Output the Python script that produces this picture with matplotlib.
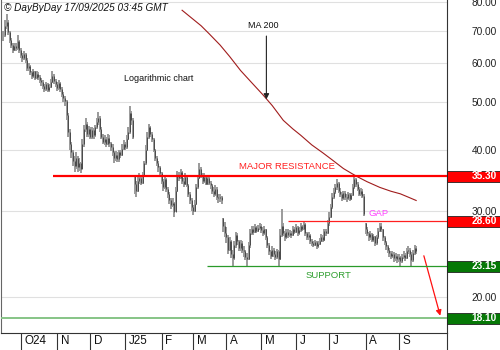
import numpy as np
import pandas as pd
import matplotlib
matplotlib.use("Agg")
import matplotlib.pyplot as plt
import matplotlib.transforms as mtransforms
from matplotlib.patches import Rectangle
from matplotlib.lines import Line2D
from matplotlib.ticker import NullLocator

plt.rcParams['font.family'] = ['Liberation Sans', 'DejaVu Sans']

# daily sessions, one bar per weekday
dates = pd.bdate_range("2024-09-16", "2025-09-16")

close = [
    68.5, 71.5, 73.0, 69.5, 67.0, 65.5, 64.0, 65.0, 64.5, 66.5,
    64.0, 62.5, 61.5, 62.8, 61.0, 58.8, 59.2, 57.5, 56.5, 57.8,
    56.0, 57.0, 56.3, 55.5, 55.0, 54.0, 53.2, 54.5, 53.0, 53.8,
    55.0, 56.5, 55.2, 54.5, 53.5, 54.8, 53.2, 52.0, 51.0, 50.2,
    47.0, 43.5, 41.0, 39.5, 38.0, 37.0, 38.5, 36.8, 37.5, 36.5,
    41.0, 44.0, 45.2, 43.0, 44.0, 42.5, 43.8, 42.8, 44.5, 45.5,
    46.5, 44.0, 42.5, 41.5, 42.0, 41.0, 42.3, 41.2, 40.5, 39.5,
    38.5, 39.0, 38.2, 39.5, 39.0, 40.2, 41.0, 40.5, 42.0, 43.5,
    47.5, 46.0, 42.5, 34.0, 33.0, 34.5, 35.0, 34.2, 35.5, 37.5,
    40.0, 42.5, 44.5, 43.0, 42.0, 40.0, 38.5, 37.5, 36.8, 35.8,
    34.5, 33.5, 34.8, 33.2, 32.5, 31.5, 30.8, 31.2, 29.8, 33.0,
    35.5, 35.0, 36.0, 34.5, 34.0, 35.2, 33.8, 32.5, 31.5, 30.5,
    30.0, 31.0, 33.5, 35.0, 36.5, 35.5, 34.5, 35.2, 34.0, 35.0,
    34.2, 33.8, 33.0, 32.5, 33.2, 32.0, 31.8, 32.0, 31.5, 28.0,
    27.0, 26.5, 25.0, 26.0, 24.5, 24.0, 25.5, 26.8, 26.0, 25.2,
    25.8, 25.0, 24.8, 24.2, 23.9, 25.5, 27.0, 27.5, 27.2, 27.8,
    27.3, 27.7, 28.0, 27.4, 27.0, 27.5, 26.5, 25.5, 24.8, 24.3,
    25.0, 24.5, 24.2, 24.8, 23.9, 26.8, 28.0, 27.0, 26.5, 27.2,
    26.8, 27.0, 26.8, 27.5, 27.2, 27.8, 27.0, 27.4, 27.9, 27.6,
    28.2, 27.0, 26.5, 26.8, 26.0, 25.8, 25.6, 25.9, 25.4, 25.7,
    26.1, 26.5, 26.2, 27.3, 27.0, 28.3, 29.2, 30.5, 32.0, 32.8,
    33.5, 34.2, 33.0, 32.5, 31.8, 32.6, 32.0, 31.8, 32.4, 31.7,
    32.3, 33.5, 34.8, 34.0, 33.2, 32.5, 33.0, 32.2, 29.6, 27.6,
    27.0, 26.5, 26.9, 26.2, 26.6, 25.8, 26.5, 27.3, 28.0, 27.5,
    26.5, 25.9, 25.4, 25.0, 24.6, 24.3, 24.5, 24.0, 24.3, 23.9,
    24.1, 23.7, 24.2, 24.4, 24.0, 24.8, 25.0, 24.5, 23.8, 24.6,
    25.2, 24.9,
]

high = [
    70.0, 73.5, 75.5, 73.5, 70.0, 67.5, 66.0, 66.0, 66.0, 68.5,
    67.0, 64.5, 63.0, 63.5, 63.0, 61.5, 60.0, 59.5, 58.0, 58.5,
    58.0, 57.8, 57.5, 56.8, 56.0, 55.5, 54.5, 55.0, 54.8, 54.5,
    55.8, 58.0, 57.0, 55.8, 55.0, 55.5, 55.0, 53.8, 52.5, 51.5,
    50.5, 47.5, 44.0, 41.5, 40.0, 38.8, 39.5, 38.8, 38.5, 37.8,
    42.0, 45.0, 46.5, 45.5, 44.8, 44.5, 44.5, 44.2, 45.0, 46.5,
    47.8, 46.8, 44.5, 43.0, 42.8, 42.5, 43.0, 42.8, 41.5, 41.0,
    39.8, 39.8, 39.5, 40.0, 40.0, 41.0, 41.8, 41.5, 42.8, 44.5,
    49.0, 48.0, 46.5, 35.5, 34.5, 35.2, 35.8, 35.5, 36.0, 38.0,
    40.8, 43.5, 45.2, 44.8, 43.5, 42.2, 40.2, 38.8, 38.0, 37.0,
    36.0, 34.8, 35.2, 35.0, 33.5, 32.8, 31.8, 31.8, 31.3, 33.5,
    36.2, 36.0, 36.5, 36.2, 35.0, 35.8, 35.5, 34.0, 32.8, 31.8,
    30.8, 31.5, 34.0, 35.5, 37.5, 36.8, 35.8, 35.8, 35.5, 35.5,
    35.2, 34.5, 34.0, 33.5, 33.8, 33.5, 32.5, 32.5, 32.2, 29.0,
    28.5, 27.8, 26.8, 26.5, 26.2, 25.0, 26.0, 27.2, 27.0, 26.2,
    26.2, 26.0, 25.4, 25.0, 24.6, 25.9, 27.5, 28.0, 27.9, 28.2,
    28.0, 28.1, 28.4, 28.2, 27.8, 27.9, 27.6, 26.6, 25.8, 25.0,
    25.4, 25.2, 24.8, 25.1, 25.0, 27.5, 30.2, 28.3, 27.3, 27.6,
    27.5, 27.4, 27.3, 27.9, 27.8, 28.2, 27.9, 27.8, 28.3, 28.1,
    28.6, 28.3, 27.2, 27.1, 26.9, 26.3, 26.1, 26.2, 26.0, 26.0,
    26.4, 26.9, 26.8, 27.6, 27.6, 28.7, 29.8, 31.0, 32.6, 33.4,
    34.0, 34.8, 34.4, 33.4, 32.8, 33.0, 32.9, 32.4, 32.8, 32.6,
    32.7, 34.0, 35.4, 35.0, 34.3, 33.5, 33.4, 33.2, 32.4, 28.3,
    27.8, 27.2, 27.3, 27.0, 26.9, 26.7, 26.8, 27.7, 28.4, 28.3,
    27.6, 26.7, 26.1, 25.6, 25.2, 24.9, 24.9, 24.7, 24.6, 24.5,
    24.5, 24.3, 24.5, 24.9, 24.6, 25.2, 25.4, 25.2, 24.7, 25.0,
    25.5, 25.4,
]

low = [
    66.5, 68.0, 70.5, 68.5, 66.0, 64.5, 63.0, 63.5, 63.5, 64.0,
    63.0, 61.5, 60.5, 61.0, 60.0, 58.0, 58.0, 56.8, 55.8, 56.0,
    55.5, 55.8, 55.5, 54.8, 54.0, 53.2, 52.5, 52.8, 52.5, 52.5,
    53.5, 54.8, 54.5, 53.8, 52.8, 53.0, 52.5, 51.2, 50.0, 49.0,
    46.0, 42.5, 40.0, 38.5, 37.0, 36.0, 36.5, 36.0, 36.2, 35.8,
    36.5, 40.5, 43.5, 42.5, 42.5, 42.0, 42.0, 42.0, 42.5, 44.0,
    45.0, 43.5, 42.0, 41.0, 40.8, 40.5, 40.8, 40.5, 39.8, 38.8,
    37.5, 38.0, 37.8, 37.8, 38.5, 38.8, 40.0, 40.0, 40.2, 41.8,
    43.0, 45.0, 42.0, 32.5, 32.0, 32.8, 34.0, 33.8, 34.0, 35.2,
    37.2, 39.8, 42.0, 42.5, 41.5, 39.5, 38.0, 37.0, 36.0, 35.2,
    34.0, 33.0, 33.2, 32.8, 31.8, 31.0, 30.2, 30.5, 29.2, 29.8,
    32.8, 34.5, 34.8, 34.0, 33.5, 33.8, 33.5, 32.0, 31.0, 30.0,
    29.4, 29.8, 30.8, 33.2, 34.8, 35.0, 34.0, 34.2, 33.8, 33.8,
    33.8, 33.2, 32.5, 32.0, 32.2, 31.5, 31.2, 31.3, 31.0, 27.2,
    26.5, 25.8, 24.5, 24.8, 24.0, 23.2, 23.8, 25.2, 25.5, 24.8,
    24.8, 24.6, 24.2, 23.8, 23.2, 23.8, 25.2, 26.8, 26.8, 27.0,
    27.0, 27.1, 27.4, 27.0, 26.6, 26.8, 26.2, 25.2, 24.4, 23.9,
    24.1, 24.2, 23.8, 23.9, 23.2, 23.8, 26.5, 26.6, 26.0, 26.3,
    26.4, 26.5, 26.4, 26.7, 26.9, 27.0, 26.7, 26.8, 27.2, 27.3,
    27.4, 26.7, 26.2, 26.2, 25.7, 25.4, 25.3, 25.4, 25.1, 25.2,
    25.5, 25.9, 25.9, 26.1, 26.7, 26.9, 28.0, 29.0, 30.2, 31.7,
    32.5, 33.1, 32.6, 32.0, 31.4, 31.5, 31.6, 31.3, 31.5, 31.4,
    31.5, 32.1, 33.3, 33.6, 32.9, 32.1, 32.2, 31.9, 29.3, 26.9,
    26.6, 26.0, 26.2, 25.9, 25.9, 25.4, 25.6, 26.3, 27.1, 27.1,
    26.1, 25.5, 25.0, 24.6, 24.2, 23.9, 24.0, 23.6, 23.7, 23.5,
    23.6, 23.2, 23.5, 23.9, 23.7, 23.9, 24.5, 24.2, 23.15, 23.6,
    24.4, 24.5,
]

# 200-day moving average, sampled on session index
ma_idx = [113, 120, 125, 130, 137, 143, 150, 157, 164, 170, 177, 183, 188,
          195, 202, 208, 215, 220, 224, 230, 238, 245, 251, 256, 261]
ma_val = [77.0, 73.8, 71.6, 69.0, 65.4, 62.0, 58.0, 54.8, 51.8, 49.2, 45.9, 44.1, 42.8,
          40.9, 39.4, 38.1, 36.6, 35.8, 35.2, 34.4, 33.5, 32.9, 32.5, 32.0, 31.5]

month_labels = ["O24", "N", "D", "J25", "F", "M", "A", "M", "J", "J", "A", "S"]
price_ticks = [20, 30, 40, 50, 60, 70, 80]

resistance = 35.30
gap_level = 28.60
support = 23.15
target = 18.10

idx = np.arange(len(dates))
c = np.array(close)
h = np.array(high)
l = np.array(low)
o = np.clip(np.r_[c[0], c[:-1]], l, h)

ymin, ymax = 16.9, 80.8
xmin, xmax = -1.5, 280.5

fig = plt.figure(figsize=(5, 3.5), dpi=100)
ax = fig.add_axes([0.002, 17 / 350, 0.892, 333 / 350])
ax.set_yscale('log')
ax.set_ylim(ymin, ymax)
ax.set_xlim(xmin, xmax)

# bars: grey high-low range, dark body between open and close
ax.vlines(idx, l, h, color='#9a9a9a', lw=1.4, zorder=3)
ax.vlines(idx, np.minimum(o, c), np.maximum(o, c), color='#2a2a2a', lw=0.5, zorder=4)

ax.plot(ma_idx, ma_val, color='#a01c1c', lw=0.8, zorder=3)

# key levels
ax.hlines(resistance, 31.3, xmax, color='#ff0000', lw=1.6, zorder=5)
ax.hlines(gap_level, 180, xmax, color='#ff2020', lw=0.9, zorder=5)
ax.hlines(support, 129, xmax, color='#2a9a2a', lw=0.9, zorder=5)
ax.hlines(target, xmin, xmax, color='#86c486', lw=1.4, zorder=5)

ax.text(179.6, 36.9, "MAJOR RESISTANCE", color='#ff2020', fontsize=6.8, ha='center', va='center')
ax.text(237, 29.7, "GAP", color='#ff44ff', fontsize=6.8, ha='center', va='center')
ax.text(205.4, 22.1, "SUPPORT", color='#2e9e2e', fontsize=6.8, ha='center', va='center')
ax.text(76, 56.0, "Logarithmic chart", color='#111111', fontsize=6.5, ha='left', va='center')
ax.text(164.5, 71.8, "MA 200", color='#111111', fontsize=6.5, ha='center', va='center')

ax.annotate("", xy=(166.3, 50.0), xytext=(166.3, 69.1),
            arrowprops=dict(arrowstyle='-|>', color='#222222', lw=0.8, mutation_scale=8))
ax.annotate("", xy=(276.7, 18.1), xytext=(265.4, 24.6),
            arrowprops=dict(arrowstyle='-|>', color='#ff1010', lw=0.9, mutation_scale=8))

# price axis on the right
ax.yaxis.tick_right()
ax.set_yticks(price_ticks)
ax.set_yticklabels([f"{v:.2f}" for v in price_ticks])
ax.yaxis.set_minor_locator(NullLocator())
ax.tick_params(axis='y', length=0, pad=36, labelsize=7.3, labelcolor='#222222')
for lbl in ax.get_yticklabels():
    lbl.set_horizontalalignment('right')
ax.grid(axis='y', color='#e0e0e0', lw=0.8)
ax.set_axisbelow(True)

# level tags on the price axis
half = 0.5 * 11 / 333 * np.log(ymax / ymin)
tags = [(resistance, '#ff0000'), (gap_level, '#ff0000'), (support, '#067806'), (target, '#067806')]
for v, face in tags:
    ax.add_patch(Rectangle((1.0, v * np.exp(-half)), 53 / 446, v * (np.exp(half) - np.exp(-half)),
                           transform=ax.get_yaxis_transform(), facecolor=face, edgecolor='#222222',
                           lw=0.6, clip_on=False, zorder=6))
    ax.text(1.0 + 50 / 446, v, f"{v:.2f}", transform=ax.get_yaxis_transform(), ha='right', va='center',
            color='white', fontsize=7.3, fontweight='bold', clip_on=False, zorder=7)

# month separators below the plot
month_idx = [i for i in range(1, len(dates)) if dates[i].month != dates[i - 1].month]
ax.set_xticks(month_idx)
ax.set_xticklabels(month_labels, ha='left')
ax.tick_params(axis='x', length=12.3, width=0.8, color='#333333', pad=-10.5, labelsize=8.4, labelcolor='#111111')
shift = mtransforms.ScaledTranslation(2.5 / 72, 0, fig.dpi_scale_trans)
for lbl in ax.get_xticklabels():
    lbl.set_transform(lbl.get_transform() + shift)

ax.spines['top'].set_visible(False)
ax.spines['left'].set_color('#666666')
ax.spines['right'].set_color('#333333')
ax.spines['bottom'].set_color('#333333')
ax.spines['right'].set_linewidth(0.8)
ax.spines['bottom'].set_linewidth(0.8)
fig.add_artist(Line2D([0.894, 0.894], [0, 17 / 350], color='#333333', lw=0.8))

fig.text(0.008, 0.977, "© DayByDay 17/09/2025 03:45 GMT", style='italic', fontsize=7.2,
         color='#111111', va='center', ha='left')

fig.savefig("out.png", dpi=100)
